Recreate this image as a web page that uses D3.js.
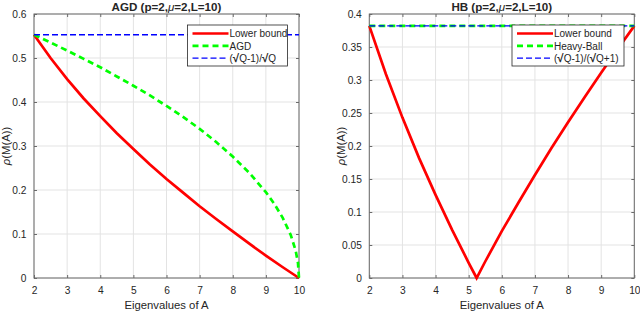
<!DOCTYPE html>
<html>
<head>
<meta charset="utf-8">
<script src="https://cdn.jsdelivr.net/npm/d3@7"></script>
<style>
  body { margin: 0; background: #fff; }
  text { font-family: "Liberation Sans", Arial, sans-serif; fill: #262626; }
</style>
</head>
<body>
<script>
const width = 640;
const height = 312;

// x values (eigenvalues of A)
const eig = [2, 2.5, 3, 3.5, 4, 4.5, 5, 5.5, 6, 6.5, 7, 7.5, 8, 8.5, 9, 9.5, 10];
const xTicks = [2, 3, 4, 5, 6, 7, 8, 9, 10];

// AGD panel
const agdLower = [0.553, 0.5, 0.452, 0.408, 0.368, 0.329, 0.293, 0.258, 0.225, 0.194, 0.163, 0.134, 0.106, 0.078, 0.051, 0.025, 0];
const agdX = [2, 2.5, 3, 3.5, 4, 4.5, 5, 5.5, 6, 6.5, 7, 7.5, 8, 8.5, 9, 9.25, 9.5, 9.75, 9.9, 9.97, 10];
const agdRate = [0.553, 0.535, 0.517, 0.498, 0.479, 0.458, 0.437, 0.415, 0.391, 0.366, 0.339, 0.309, 0.276, 0.239, 0.195, 0.169, 0.138, 0.098, 0.062, 0.034, 0];
const agdBound = 0.553;
const agdYTicks = [0, 0.1, 0.2, 0.3, 0.4, 0.5, 0.6];

// HB panel
const hbX = [2, 2.5, 3, 3.5, 4, 4.5, 5, 5.24, 5.5, 6, 6.5, 7, 7.5, 8, 8.5, 9, 9.5, 10];
const hbLower = [0.382, 0.309, 0.243, 0.182, 0.126, 0.073, 0.023, 0, 0.025, 0.071, 0.114, 0.156, 0.197, 0.236, 0.274, 0.311, 0.347, 0.382];
const hbRate = 0.382;
const hbBound = 0.382;
const hbYTicks = [0, 0.05, 0.1, 0.15, 0.2, 0.25, 0.3, 0.35, 0.4];

const red = "#ff0000", green = "#00ff00", blue = "#0000ff";

const svg = d3.select("body")
  .append("svg")
  .attr("width", width)
  .attr("height", height);

function drawPanel(p) {
  const x = d3.scaleLinear().domain([2, 10]).range([p.left, p.right]);
  const y = d3.scaleLinear().domain(p.yDomain).range([p.bottom, p.top]);
  const g = svg.append("g");

  // grid
  g.selectAll(".vgrid").data(xTicks).enter().append("line")
    .attr("x1", d => x(d)).attr("x2", d => x(d))
    .attr("y1", p.top).attr("y2", p.bottom)
    .attr("stroke", "#e3e3e3").attr("stroke-width", 1);
  g.selectAll(".hgrid").data(p.yTicks).enter().append("line")
    .attr("x1", p.left).attr("x2", p.right)
    .attr("y1", d => y(d)).attr("y2", d => y(d))
    .attr("stroke", "#e3e3e3").attr("stroke-width", 1);

  // axes with inward ticks
  const bottomAxis = d3.axisBottom(x).tickValues(xTicks).tickSize(-3).tickPadding(9).tickFormat(d3.format("d"));
  const topAxis = d3.axisTop(x).tickValues(xTicks).tickSize(-3).tickFormat("");
  const leftAxis = d3.axisLeft(y).tickValues(p.yTicks).tickSize(-3).tickPadding(7.5).tickFormat(d => String(d));
  const rightAxis = d3.axisRight(y).tickValues(p.yTicks).tickSize(-3).tickFormat("");

  const ax = [
    g.append("g").attr("transform", `translate(0,${p.bottom})`).call(bottomAxis),
    g.append("g").attr("transform", `translate(0,${p.top})`).call(topAxis),
    g.append("g").attr("transform", `translate(${p.left},0)`).call(leftAxis),
    g.append("g").attr("transform", `translate(${p.right},0)`).call(rightAxis)
  ];
  ax.forEach(a => {
    a.select(".domain").remove();
    a.selectAll("line").attr("stroke", "#6a6a6a");
    a.selectAll("text").style("font-size", "10.2px").attr("fill", "#262626");
  });

  g.append("rect")
    .attr("x", p.left).attr("y", p.top)
    .attr("width", p.right - p.left).attr("height", p.bottom - p.top)
    .attr("fill", "none").attr("stroke", "#6a6a6a").attr("stroke-width", 1);

  // curves
  const line = d3.line().x(d => x(d[0])).y(d => y(d[1]));
  p.series.forEach(s => {
    g.append("path")
      .datum(s.x.map((v, i) => [v, s.y[i]]))
      .attr("d", line)
      .attr("fill", "none")
      .attr("stroke", s.color)
      .attr("stroke-width", s.width)
      .attr("stroke-dasharray", s.dash || null);
  });

  // title
  const t = g.append("text")
    .attr("x", (p.left + p.right) / 2).attr("y", 11)
    .attr("text-anchor", "middle")
    .style("font-size", "11.6px").style("font-weight", "bold");
  t.append("tspan").text(p.title[0]);
  t.append("tspan").style("font-style", "italic").style("font-weight", "normal").text("μ");
  t.append("tspan").text(p.title[1]);

  // axis labels
  g.append("text")
    .attr("x", (p.left + p.right) / 2).attr("y", 309)
    .attr("text-anchor", "middle")
    .style("font-size", "11.3px")
    .text("Eigenvalues of A");
  const yl = g.append("text")
    .attr("transform", `translate(${p.left - 24},${(p.top + p.bottom) / 2}) rotate(-90)`)
    .attr("text-anchor", "middle")
    .style("font-size", "11.3px");
  yl.append("tspan").style("font-style", "italic").text("ρ");
  yl.append("tspan").text("(M(A))");

  // legend
  const lg = g.append("g");
  lg.append("rect")
    .attr("x", p.legend.x).attr("y", p.legend.y)
    .attr("width", p.legend.w).attr("height", 41)
    .attr("fill", "#fff").attr("stroke", "#262626").attr("stroke-width", 0.8);
  p.series.forEach((s, i) => {
    const ly = p.legend.y + 8.5 + i * 12.3;
    lg.append("line")
      .attr("x1", p.legend.x + 5).attr("x2", p.legend.x + 41)
      .attr("y1", ly).attr("y2", ly)
      .attr("stroke", s.color).attr("stroke-width", s.width)
      .attr("stroke-dasharray", s.dash || null);
    const lt = lg.append("text")
      .attr("x", p.legend.x + 42).attr("y", ly + 3.8)
      .style("font-size", "10px");
    s.label.forEach(part => {
      lt.append("tspan")
        .style("font-weight", part.b ? "bold" : "normal")
        .style("font-size", part.b ? "11.5px" : null)
        .text(part.t);
    });
  });
}

drawPanel({
  left: 34, right: 299, top: 14, bottom: 278,
  yDomain: [0, 0.6], yTicks: agdYTicks,
  title: ["AGD (p=2,", "=2,L=10)"],
  legend: { x: 187.5, y: 25, w: 100 },
  series: [
    { x: eig, y: agdLower, color: red, width: 2.7, label: [{ t: "Lower bound" }] },
    { x: agdX, y: agdRate, color: green, width: 2.7, dash: "6,4", label: [{ t: "AGD" }] },
    { x: [2, 10], y: [agdBound, agdBound], color: blue, width: 1.4, dash: "6,3",
      label: [{ t: "(" }, { t: "√", b: true }, { t: "Q-1)/" }, { t: "√", b: true }, { t: "Q" }] }
  ]
});

drawPanel({
  left: 369.3, right: 634.3, top: 14, bottom: 278,
  yDomain: [0, 0.4], yTicks: hbYTicks,
  title: ["HB (p=2,", "=2,L=10)"],
  legend: { x: 512, y: 25, w: 112 },
  series: [
    { x: hbX, y: hbLower, color: red, width: 2.7, label: [{ t: "Lower bound" }] },
    { x: [2, 10], y: [hbRate, hbRate], color: green, width: 2.7, dash: "6,4", label: [{ t: "Heavy-Ball" }] },
    { x: [2, 10], y: [hbBound, hbBound], color: blue, width: 1.4, dash: "6,3",
      label: [{ t: "(" }, { t: "√", b: true }, { t: "Q-1)/(" }, { t: "√", b: true }, { t: "Q+1)" }] }
  ]
});
</script>
</body>
</html>
